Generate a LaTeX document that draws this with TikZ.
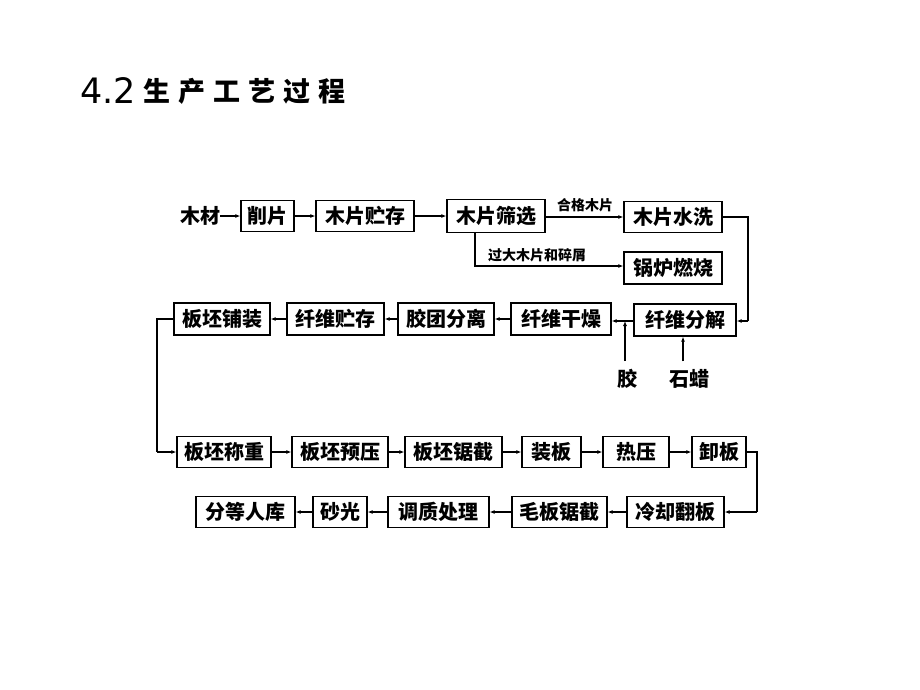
\documentclass[tikz,border=0pt]{standalone}
\usepackage{fontspec}
\newfontfamily\cjk{Noto Sans CJK SC}
\newfontfamily\titlelat{DejaVu Sans}
\usetikzlibrary{arrows.meta}
\tikzset{
  box/.style={draw, line width=1.3pt, inner sep=0pt, minimum height=31pt,
    font={\cjk\bfseries\fontsize{20}{20}\selectfont}},
  arr/.style={line width=1.1pt, -{Latex[length=5pt,width=4pt]}},
  ln/.style={line width=1.1pt},
  txt/.style={inner sep=0pt, font={\cjk\bfseries\fontsize{20}{20}\selectfont}},
  lbl/.style={inner sep=0pt, font={\cjk\bfseries\fontsize{14}{14}\selectfont}},
  ttl/.style={inner sep=0pt, anchor=west}
}
\newcommand{\mytitlecjk}{\cjk\bfseries\fontsize{27}{27}\selectfont 生\hspace{8pt}产\hspace{8pt}工\hspace{8pt}艺\hspace{8pt}过\hspace{8pt}程}
\begin{document}
\begin{tikzpicture}[x=1pt,y=-1pt]
\useasboundingbox (0,0) rectangle (920,690);
\fill[white] (0,0) rectangle (920,690);
% title
\node[ttl] (t1) at (80,91) {\titlelat\fontsize{35}{35}\selectfont 4.2};
\node[ttl] (t2) at (143,91) {\mytitlecjk};
% row 1
\node[txt] (mc) at (200,216) {木材};
\node[box, minimum width=53pt] (xp) at (267.5,216) {削片};
\node[box, minimum width=98pt] (cc1) at (365,216) {木片贮存};
\node[box, minimum width=98pt, minimum height=33pt] (sx) at (496,216) {木片筛选};
\node[box, minimum width=98pt] (sxi) at (673,217) {木片水洗};
\node[box, minimum width=98pt, minimum height=32pt] (gl) at (673,268) {锅炉燃烧};
\node[lbl] (hg) at (585,205) {合格木片};
\node[lbl] (gd) at (537,255) {过大木片和碎屑};
\coordinate (br1) at (475,266);
\coordinate (r1) at (748,217);
\coordinate (r2) at (748,321);
% row 2
\node[box, minimum width=96pt, minimum height=32pt] (pz) at (222,319) {板坯铺装};
\node[box, minimum width=97pt, minimum height=32pt] (xc) at (335.5,319) {纤维贮存};
\node[box, minimum width=96pt, minimum height=32pt] (jt) at (446,319) {胶团分离};
\node[box, minimum width=100pt, minimum height=32pt] (gz) at (561,319) {纤维干燥};
\node[box, minimum width=102pt, minimum height=32pt] (fj) at (685,320) {纤维分解};
\node[txt] (jiao) at (627,379) {胶};
\node[txt] (sl) at (689,379) {石蜡};
\coordinate (jj1) at (625,321);
\coordinate (l1) at (157,319);
\coordinate (l2) at (157,452);
% row 3
\node[box, minimum width=94pt] (cz) at (224,452) {板坯称重};
\node[box, minimum width=96pt] (yy) at (340,452) {板坯预压};
\node[box, minimum width=97pt] (jj) at (453.5,452) {板坯锯截};
\node[box, minimum width=59pt] (zb) at (551.5,452) {装板};
\node[box, minimum width=66pt] (rl) at (636,452) {热压};
\node[box, minimum width=54pt] (xb) at (719,452) {卸板};
\coordinate (q1) at (757,452);
\coordinate (q2) at (757,512);
% row 4
\node[box, minimum width=97pt] (lq) at (675.5,512) {冷却翻板};
\node[box, minimum width=95pt] (mb) at (559.5,512) {毛板锯截};
\node[box, minimum width=101pt] (tz) at (438.5,512) {调质处理};
\node[box, minimum width=54pt] (sg) at (340,512) {砂光};
\node[box, minimum width=99pt] (fd) at (245.5,512) {分等人库};
% connectors row 1
\draw[arr] (mc) -- (xp);
\draw[arr] (xp) -- (cc1);
\draw[arr] (cc1) -- (sx);
\draw[arr] (sx.east |- sxi.west) -- (sxi.west);
\draw[arr] (sx.south -| br1) -- (br1) -- (gl.west |- br1);
\draw[ln] (sxi.east) -- (r1) -- (r2);
\draw[arr] (r2) -- (fj.east |- r2);
% row 2
\draw[arr] (fj.west |- jj1) -- (gz.east |- jj1);
\draw[arr] (jiao.north -| jj1) ++(0,-8) -- (jj1);
\draw[arr] (sl.north -| 683,0) ++(0,-8) -- (fj.south -| 683,0);
\draw[arr] (gz) -- (jt);
\draw[arr] (jt) -- (xc);
\draw[arr] (xc) -- (pz);
\draw[ln] (pz.west) -- (l1) -- (l2);
\draw[arr] (l2) -- (cz.west);
% row 3
\draw[arr] (cz) -- (yy);
\draw[arr] (yy) -- (jj);
\draw[arr] (jj) -- (zb);
\draw[arr] (zb) -- (rl);
\draw[arr] (rl) -- (xb);
\draw[ln] (xb.east) -- (q1) -- (q2);
\draw[arr] (q2) -- (lq.east);
% row 4
\draw[arr] (lq) -- (mb);
\draw[arr] (mb) -- (tz);
\draw[arr] (tz) -- (sg);
\draw[arr] (sg) -- (fd);
\end{tikzpicture}
\end{document}
